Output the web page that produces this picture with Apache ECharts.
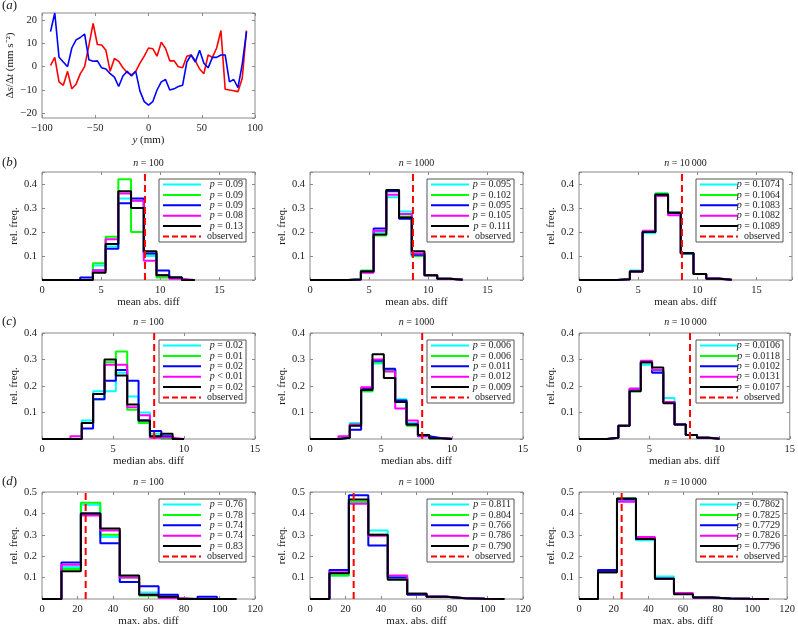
<!DOCTYPE html>
<html><head><meta charset="utf-8">
<script src="https://cdn.jsdelivr.net/npm/echarts@6/dist/echarts.min.js"></script>
<style>html,body{margin:0;padding:0;background:#fff}#c{width:798px;height:628px}</style>
</head><body><div id="c"></div>
<script>
// ---------- Panel (a) data ----------
const aX = [-92,-88,-84,-80,-76,-72,-68,-64,-60,-56,-52,-48,-44,-40,-36,-32,-28,-24,-20,-16,-12,-8,-4,0,4,8,12,16,20,24,28,32,36,40,44,48,52,56,60,64,68,72,76,80,84,88,92];
const aRed = [0.5,4,-6.5,-8,-2,-9.5,-7.5,-3,0,9,18.5,9.5,9.3,7,-2,3.5,2.3,-0.5,-2.5,-3.5,-2,1.5,4.5,8,7.7,4.5,10.5,7.8,2.5,2.5,0,-0.5,4.5,5,2.5,-1,-3,5,4,8,15.5,-9.7,-10,-10.3,-10.7,-5,15.5];
const aBlue = [15,23,4,2,0,8,11.5,12.5,14,3,2.3,2.5,-0.5,-1,-3,-4.5,-8.5,-4,-2,-4,-2,-10.5,-15,-16.5,-15,-10,-6.5,-5.5,-10,-9.5,-8.5,-8,2,5,2,7,1.5,-0.5,4,4,5,5,-6.5,-5.5,-9,1,15];

// ---------- Histogram bin edges ----------
const edgesMean = [0,1.075,2.15,3.225,4.3,5.375,6.45,7.525,8.6,9.675,10.75,11.825,12.9];
const edgesMedian = [0,1.2,2.0,2.8,3.6,4.4,5.2,6.0,6.8,7.6,8.4,9.2,10.0];
const edgesMax = [0,10.95,21.9,32.85,43.8,54.75,65.7,76.65,87.6,98.55,109.5];

// observed values
const obsMean = 8.7, obsMedian = 7.9, obsMax = 24.6;

// ---------- (b) mean abs. diff ----------
const b1 = [
  [0,0,0,0,0.06,0.14,0.34,0.33,0.10,0.02,0.01,0],
  [0,0,0,0,0.07,0.18,0.42,0.20,0.11,0.01,0.01,0],
  [0,0,0,0.01,0.04,0.13,0.32,0.34,0.11,0.04,0.01,0],
  [0,0,0,0,0.04,0.17,0.36,0.33,0.08,0.02,0.005,0],
  [0,0,0,0,0.03,0.15,0.37,0.30,0.12,0.02,0.01,0]];
const b2 = [
  [0,0,0,0.003,0.035,0.20,0.345,0.285,0.10,0.02,0.005,0.001],
  [0,0,0,0.003,0.04,0.185,0.375,0.265,0.10,0.02,0.005,0.001],
  [0,0,0,0.002,0.035,0.215,0.37,0.255,0.105,0.02,0.005,0.001],
  [0,0,0,0.002,0.03,0.205,0.355,0.275,0.11,0.02,0.005,0.002],
  [0,0,0,0.002,0.035,0.19,0.375,0.26,0.12,0.02,0.005,0.001]];
const b3 = [
  [0,0,0,0.003,0.04,0.195,0.36,0.28,0.11,0.025,0.005,0.001],
  [0,0,0,0.003,0.035,0.2,0.36,0.28,0.11,0.025,0.005,0.001],
  [0,0,0,0.003,0.035,0.2,0.355,0.28,0.11,0.025,0.006,0.001],
  [0,0,0,0.003,0.035,0.205,0.35,0.27,0.112,0.025,0.006,0.001],
  [0,0,0,0.003,0.035,0.2,0.355,0.28,0.113,0.025,0.005,0.001]];
// ---------- (c) median abs. diff ----------
const c1 = [
  [0,0,0,0.07,0.18,0.18,0.25,0.16,0.10,0.02,0,0],
  [0,0,0,0.06,0.15,0.29,0.33,0.11,0.06,0.01,0,0],
  [0,0,0,0.04,0.15,0.22,0.26,0.22,0.07,0.03,0.01,0],
  [0,0,0.01,0.06,0.17,0.28,0.28,0.12,0.09,0.005,0.005,0],
  [0,0,0,0.06,0.17,0.30,0.24,0.13,0.07,0.01,0.02,0]];
const c2 = [
  [0,0,0.005,0.06,0.18,0.285,0.26,0.15,0.06,0.015,0.002,0],
  [0,0,0.005,0.055,0.18,0.29,0.26,0.14,0.05,0.012,0.002,0],
  [0,0,0.005,0.035,0.19,0.295,0.265,0.145,0.055,0.01,0.004,0],
  [0,0,0.01,0.055,0.195,0.30,0.255,0.115,0.07,0.012,0.003,0.002],
  [0,0,0.005,0.05,0.185,0.32,0.23,0.14,0.055,0.015,0.003,0]];
const c3 = [
  [0,0,0.005,0.05,0.18,0.28,0.255,0.155,0.055,0.015,0.005,0.001],
  [0,0,0.005,0.05,0.185,0.29,0.26,0.14,0.055,0.015,0.005,0.001],
  [0,0,0.005,0.05,0.19,0.29,0.25,0.14,0.055,0.015,0.005,0.001],
  [0,0,0.005,0.05,0.19,0.295,0.26,0.14,0.055,0.015,0.006,0.001],
  [0,0,0.005,0.05,0.18,0.29,0.27,0.135,0.055,0.015,0.005,0.001]];
// ---------- (d) max. abs. diff ----------
const d1 = [
  [0,0.15,0.44,0.29,0.08,0.03,0.01,0,0,0],
  [0,0.14,0.45,0.30,0.10,0.015,0.005,0,0,0],
  [0,0.17,0.40,0.26,0.08,0.06,0.02,0,0.01,0],
  [0,0.16,0.39,0.32,0.10,0.02,0.005,0,0,0],
  [0,0.13,0.40,0.33,0.11,0.02,0.01,0,0,0]];
const d2 = [
  [0,0.11,0.45,0.32,0.10,0.025,0.01,0.003,0.001,0],
  [0,0.11,0.455,0.30,0.10,0.025,0.01,0.003,0.001,0],
  [0,0.135,0.485,0.25,0.10,0.02,0.01,0.003,0.001,0],
  [0,0.125,0.445,0.295,0.11,0.025,0.012,0.003,0.001,0],
  [0,0.12,0.465,0.30,0.09,0.025,0.01,0.003,0.001,0]];
const d3 = [
  [0,0.125,0.465,0.275,0.105,0.025,0.007,0.002,0.001,0.0005],
  [0,0.125,0.47,0.28,0.095,0.025,0.007,0.002,0.001,0.0005],
  [0,0.135,0.465,0.28,0.095,0.025,0.007,0.002,0.001,0.0005],
  [0,0.125,0.455,0.29,0.095,0.028,0.007,0.002,0.001,0.0005],
  [0,0.125,0.47,0.28,0.095,0.022,0.007,0.002,0.001,0.0005]];

// ---------- legend p-values ----------
const pB1 = ['= 0.09','= 0.09','= 0.09','= 0.08','= 0.13'];
const pB2 = ['= 0.095','= 0.102','= 0.095','= 0.105','= 0.111'];
const pB3 = ['= 0.1074','= 0.1064','= 0.1083','= 0.1082','= 0.1089'];
const pC1 = ['= 0.02','= 0.01','= 0.02','< 0.01','= 0.02'];
const pC2 = ['= 0.006','= 0.006','= 0.011','= 0.012','= 0.009'];
const pC3 = ['= 0.0106','= 0.0118','= 0.0102','= 0.0131','= 0.0107'];
const pD1 = ['= 0.76','= 0.78','= 0.74','= 0.74','= 0.83'];
const pD2 = ['= 0.811','= 0.804','= 0.766','= 0.786','= 0.790'];
const pD3 = ['= 0.7862','= 0.7825','= 0.7729','= 0.7826','= 0.7796'];
const nLabels = ['100','1000','10\u2009000'];

// ---------- rendering ----------
const F = 'Liberation Serif';
const FS = 10;      // legend / titles
const FT = 10.5;    // tick labels
const FN = 11;      // axis names
const COLORS = ['#00ffff','#00ff00','#0000ff','#ff00ff','#000000'];
const BORDER = '#8a8a8a';
const TXT = '#1a1a1a';
const grids = [], xAxes = [], yAxes = [], series = [], graphics = [];
const mirrorX = [], mirrorY = [];
const richI = {i:{fontStyle:'italic', fontFamily:F, fontSize:FS, color:TXT}};
const richN = {i:{fontStyle:'italic', fontFamily:F, fontSize:FN, color:TXT}};
const tick = {show:true, inside:true, length:3, lineStyle:{color:BORDER}};

function fmt(step){
  return function(v){
    const r = v/step;
    if (Math.abs(r - Math.round(r)) > 1e-6) return '';
    return String(+v.toFixed(6)).replace('-', '\u2212');
  };
}
function addPanel(pos, xr, yr, xname, yname, xgap, ygap, hideY0){
  const gi = grids.length;
  grids.push({left:pos[0], top:pos[1], width:pos[2], height:pos[3], show:true,
    borderColor:BORDER, borderWidth:1, backgroundColor:'#fff'});
  xAxes.push({type:'value', gridIndex:gi, min:xr[0], max:xr[1], interval:xr[2],
    name:xname, nameLocation:'middle', nameGap:xgap,
    nameTextStyle:{fontFamily:F, fontSize:FN, color:TXT, rich:richN},
    axisLine:{show:false, onZero:false}, axisTick:tick, splitLine:{show:false},
    axisLabel:{fontFamily:F, fontSize:FT, color:TXT, margin:5, formatter:fmt(xr[2])}});
  const yf = fmt(yr[2]);
  yAxes.push({type:'value', gridIndex:gi, min:yr[0], max:yr[1], interval:yr[3] ? undefined : yr[2],
    name:yname, nameLocation:'middle', nameGap:ygap,
    nameTextStyle:{fontFamily:F, fontSize:FN, color:TXT, rich:richN},
    axisLine:{show:false, onZero:false}, axisTick:tick, splitLine:{show:false},
    axisLabel:{fontFamily:F, fontSize:FT, color:TXT, margin:5,
      showMinLabel: yr[3] ? false : undefined, showMaxLabel: yr[3] ? false : undefined,
      formatter: function(v){ if (hideY0 && Math.abs(v) < 1e-9) return ''; return yf(v); }}});
  // mirrored tick marks (top / right), as in the original box style
  mirrorX.push({type:'value', gridIndex:gi, position:'top', min:xr[0], max:xr[1], interval:xr[2],
    axisLine:{show:false, onZero:false}, axisTick:tick, axisLabel:{show:false}, splitLine:{show:false}});
  mirrorY.push({type:'value', gridIndex:gi, position:'right', min:yr[0], max:yr[1], interval:yr[3] ? undefined : yr[2],
    axisLine:{show:false, onZero:false}, axisTick:tick, axisLabel:{show:false}, splitLine:{show:false}});
  return gi;
}
function stepData(edges, vals){
  const d = [];
  for (let i = 0; i < vals.length; i++) d.push([edges[i], vals[i]]);
  d.push([edges[vals.length], vals[vals.length-1]]);
  d.push([edges[vals.length], 0]);
  return d;
}
function legend(gi, pos, labels){
  const W = 87, H = 63;
  const x0 = pos[0] + pos[2] - 9 - W, y0 = pos[1] + 7;
  graphics.push({type:'rect', shape:{x:x0, y:y0, width:W, height:H}, style:{fill:'#fff', stroke:'#555', lineWidth:1}, z:100, silent:true});
  const items = labels.map(s => '{i|p} ' + s).concat(['observed']);
  items.forEach((t, k) => {
    const cy = y0 + 5.5 + 10.4*k;
    const isObs = k === 5;
    graphics.push({type:'line', shape:{x1:x0+4, y1:cy, x2:x0+42, y2:cy},
      style:{stroke: isObs ? '#ff0000' : COLORS[k], lineWidth:2, lineDash: isObs ? [6,3] : null}, z:101, silent:true});
    graphics.push({type:'text', x:x0+W-3, y:cy, z:102, silent:true,
      style:{text:t, align:'right', verticalAlign:'middle', fontFamily:F, fontSize:FS, fill:TXT, rich:richI}});
  });
}
function title(pos, yc, n){
  graphics.push({type:'text', x:pos[0]+pos[2]/2, y:yc, z:102, silent:true,
    style:{text:'{i|n} = ' + n, align:'center', verticalAlign:'middle', fontFamily:F, fontSize:FS, fill:TXT, rich:richI}});
}
function panelLabel(letter, y){
  graphics.push({type:'text', x:2, y:y, z:102, silent:true,
    style:{text:'({i|' + letter + '})', align:'left', verticalAlign:'middle', fontFamily:F, fontSize:13, fill:TXT,
      rich:{i:{fontStyle:'italic', fontFamily:F, fontSize:13, color:TXT}}}});
}

// Panel (a)
const posA = [42, 13, 213, 105];
const ga = addPanel(posA, [-100, 100, 50], [-22, 23, 10, true], '{i|y} (mm)',
  '\u0394{i|s}/\u0394{i|t} (mm s\u207B\u00B2)', 12, 26, false);
series.push({type:'line', xAxisIndex:ga, yAxisIndex:ga, data:aX.map((x,i)=>[x, aRed[i]]), symbol:'none',
  lineStyle:{color:'#ff0000', width:1.6}, itemStyle:{color:'#ff0000'}, z:2});
series.push({type:'line', xAxisIndex:ga, yAxisIndex:ga, data:aX.map((x,i)=>[x, aBlue[i]]), symbol:'none',
  lineStyle:{color:'#0000ff', width:1.6}, itemStyle:{color:'#0000ff'}, z:3});
panelLabel('a', 6);

const colX = [42, 310, 579];
const W = 213;
const rows = [
  {top:172, h:108, label:'b', ly:163, edges:edgesMean, obs:obsMean, xr:[0,18,5], yr:[0,0.45,0.1,false], xname:'mean abs. diff', data:[b1,b2,b3], p:[pB1,pB2,pB3]},
  {top:333, h:106, label:'c', ly:322, edges:edgesMedian, obs:obsMedian, xr:[0,15,5], yr:[0,0.4,0.1,false], xname:'median abs. diff', data:[c1,c2,c3], p:[pC1,pC2,pC3]},
  {top:492, h:107, label:'d', ly:482, edges:edgesMax, obs:obsMax, xr:[0,120,20], yr:[0,0.5,0.1,false], xname:'max. abs. diff', data:[d1,d2,d3], p:[pD1,pD2,pD3]}
];
rows.forEach(r => {
  panelLabel(r.label, r.ly);
  for (let c = 0; c < 3; c++){
    const pos = [colX[c], r.top, W, r.h];
    const gi = addPanel(pos, r.xr, r.yr, r.xname, 'rel. freq.', 8, 22, true);
    r.data[c].forEach((vals, k) => {
      series.push({type:'line', xAxisIndex:gi, yAxisIndex:gi, step:'end', data:stepData(r.edges, vals),
        symbol:'none', lineStyle:{color:COLORS[k], width:2}, itemStyle:{color:COLORS[k]}, z:2+k});
    });
    series.push({type:'line', xAxisIndex:gi, yAxisIndex:gi, data:[[r.obs, r.yr[0]],[r.obs, r.yr[1]]], symbol:'none',
      lineStyle:{color:'#ff0000', width:2, type:[7,4]}, itemStyle:{color:'#ff0000'}, z:8});
    legend(gi, pos, r.p[c]);
    title(pos, r.ly, nLabels[c]);
  }
});

const chart = echarts.init(document.getElementById('c'), null, {renderer:'canvas'});
chart.setOption({
  animation:false,
  grid:grids, xAxis:xAxes.concat(mirrorX), yAxis:yAxes.concat(mirrorY), series:series,
  graphic:{elements:graphics}
});
</script></body></html>
